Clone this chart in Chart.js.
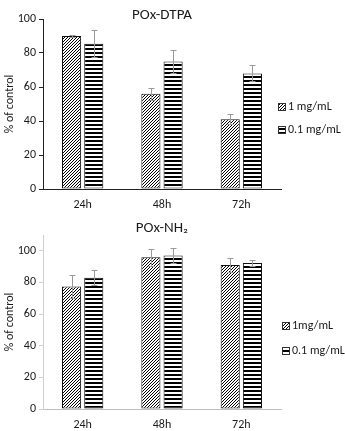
<!DOCTYPE html>
<html>
<head>
<meta charset="utf-8">
<script src="https://cdn.jsdelivr.net/npm/chart.js@4"></script>
<style>
  body { margin: 0; background: #fff; }
  .box { position: absolute; left: 0; width: 345px; }
</style>
</head>
<body>
<div class="box" style="top:0;height:210px"><canvas id="topChart" width="345" height="210"></canvas></div>
<div class="box" style="top:210px;height:221px"><canvas id="bottomChart" width="345" height="221"></canvas></div>
<script>
// data
const times = ["24h", "48h", "72h"];

const dtpaHigh = [90, 56, 41];
const dtpaHighErr = [0.7, 3.5, 3];
const dtpaLow = [85.5, 75, 68];
const dtpaLowErr = [7.8, 6.5, 4.7];

const nh2High = [77.5, 96, 91];
const nh2HighErr = [7.5, 5.3, 4.7];
const nh2Low = [83, 97, 92.3];
const nh2LowErr = [4.8, 4.5, 2.2];

const yTicks = [0, 20, 40, 60, 80, 100];

const FONT = "Carlito, Lato, 'Open Sans', sans-serif";
const TEXT = "#1a1a1a";

function makePattern(kind) {
    const c = document.createElement("canvas");
    const n = kind === "diag" ? 3 : 4;
    c.width = n;
    c.height = n;
    const g = c.getContext("2d");
    g.fillStyle = "#fff";
    g.fillRect(0, 0, n, n);
    g.fillStyle = "#000";
    if (kind === "diag") {
        for (let i = 0; i < n; i++) {
            g.fillRect(i, n - 1 - i, 1, 1);
        }
    } else {
        g.fillRect(0, 0, n, 2);
    }
    return g.createPattern(c, "repeat");
}

// error bars drawn through the chart's own scales
const errorBars = {
    id: "errorBars",
    afterDatasetsDraw(chart, args, opts) {
        const ctx = chart.ctx;
        const y = chart.scales.y;
        ctx.save();
        ctx.strokeStyle = opts.color;
        ctx.lineWidth = 1;
        chart.data.datasets.forEach(function (ds, i) {
            const meta = chart.getDatasetMeta(i);
            meta.data.forEach(function (bar, j) {
                const v = ds.data[j], e = ds.errors[j];
                const x = Math.round(bar.x) + 0.5;
                const hi = Math.round(y.getPixelForValue(v + e)) + 0.5;
                const lo = Math.round(y.getPixelForValue(v - e)) + 0.5;
                ctx.beginPath();
                ctx.moveTo(x, hi); ctx.lineTo(x, lo);
                ctx.moveTo(x - 3, hi); ctx.lineTo(x + 3, hi);
                ctx.moveTo(x - 3, lo); ctx.lineTo(x + 3, lo);
                ctx.stroke();
            });
        });
        ctx.restore();
    }
};

// Excel-style legend to the right of the plot
const sideLegend = {
    id: "sideLegend",
    afterDraw(chart, args, opts) {
        const ctx = chart.ctx;
        ctx.save();
        ctx.font = "12px " + FONT;
        ctx.textBaseline = "middle";
        chart.data.datasets.forEach(function (ds, i) {
            const cy = opts.y + i * opts.gap;
            ctx.fillStyle = ds.backgroundColor;
            ctx.fillRect(opts.x, cy - 4, 8, 8);
            ctx.strokeStyle = "#333";
            ctx.lineWidth = 1;
            ctx.strokeRect(opts.x + 0.5, cy - 3.5, 7, 7);
            ctx.fillStyle = TEXT;
            ctx.fillText(ds.label, opts.x + 10, cy);
        });
        ctx.restore();
    }
};

function buildChart(id, cfg) {
    const diag = makePattern("diag");
    const horiz = makePattern("horiz");
    return new Chart(document.getElementById(id), {
        type: "bar",
        data: {
            labels: times,
            datasets: [
                {
                    label: cfg.labels[0],
                    data: cfg.high,
                    errors: cfg.highErr,
                    backgroundColor: diag,
                    borderColor: "#111",
                    borderWidth: 1,
                    borderSkipped: false
                },
                {
                    label: cfg.labels[1],
                    data: cfg.low,
                    errors: cfg.lowErr,
                    backgroundColor: horiz,
                    borderColor: "#111",
                    borderWidth: 1,
                    borderSkipped: false
                }
            ]
        },
        plugins: [errorBars, sideLegend],
        options: {
            responsive: false,
            animation: false,
            layout: { padding: { left: 0, right: 64, top: 0, bottom: 0 } },
            datasets: { bar: { categoryPercentage: 0.56, barPercentage: 0.86 } },
            plugins: {
                legend: { display: false },
                tooltip: { enabled: false },
                title: {
                    display: true,
                    fullSize: false,
                    text: cfg.title,
                    color: TEXT,
                    font: { family: FONT, size: 15, weight: "normal" },
                    padding: cfg.titlePad
                },
                errorBars: { color: "#9a9a9a" },
                sideLegend: cfg.legend
            },
            scales: {
                x: {
                    grid: { display: false, drawTicks: false, tickLength: 0 },
                    border: { display: true, color: cfg.xAxisColor, width: 1 },
                    ticks: { color: TEXT, font: { family: FONT, size: 12 }, padding: 9 },
                    afterFit: function (s) { s.height = cfg.xHeight; }
                },
                y: {
                    min: 0,
                    max: cfg.yMax,
                    afterBuildTicks: function (s) {
                        s.ticks = yTicks.map(function (v) { return { value: v }; });
                    },
                    grid: {
                        drawOnChartArea: false,
                        drawTicks: true,
                        tickLength: 4,
                        color: cfg.yAxisColor
                    },
                    border: { display: true, color: cfg.yAxisColor, width: 1 },
                    ticks: { color: TEXT, font: { family: FONT, size: 12 }, padding: 3 },
                    title: {
                        display: true,
                        text: "% of control",
                        color: TEXT,
                        font: { family: FONT, size: 12 },
                        padding: { top: 3, bottom: 0 }
                    },
                    afterFit: function (s) { s.width = 43; }
                }
            }
        }
    });
}

buildChart("topChart", {
    title: "POx-DTPA",
    labels: ["1 mg/mL", "0.1 mg/mL"],
    high: dtpaHigh, highErr: dtpaHighErr,
    low: dtpaLow, lowErr: dtpaLowErr,
    yMax: 100,
    titlePad: { top: 6, bottom: -5 },
    xHeight: 21,
    xAxisColor: "#222",
    yAxisColor: "#222",
    legend: { x: 278, y: 107, gap: 23 }
});

buildChart("bottomChart", {
    title: "POx-NH₂",
    labels: ["1mg/mL", "0.1 mg/mL"],
    high: nh2High, highErr: nh2HighErr,
    low: nh2Low, lowErr: nh2LowErr,
    yMax: 110,
    titlePad: { top: 9, bottom: -2 },
    xHeight: 22,
    xAxisColor: "#bfbfbf",
    yAxisColor: "#d0d0d0",
    legend: { x: 282, y: 116, gap: 25 }
});
</script>
</body>
</html>
